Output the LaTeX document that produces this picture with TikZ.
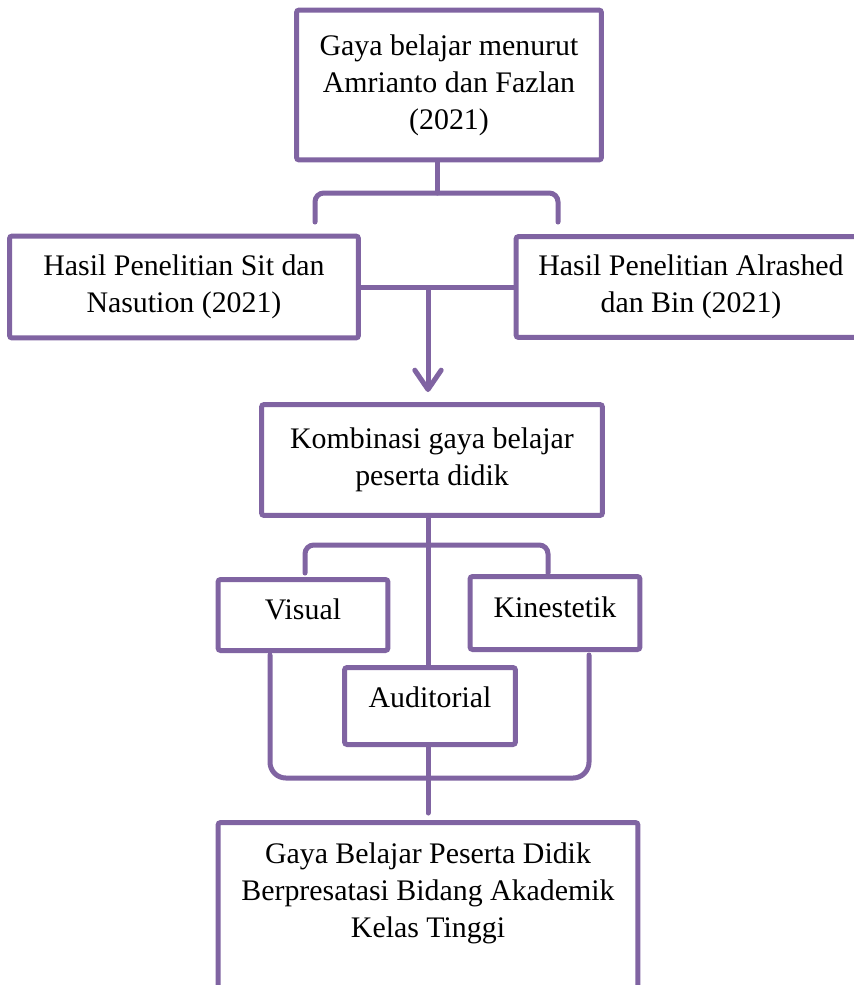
\documentclass[tikz,border=0pt]{standalone}
\usepackage{fontspec}
\setmainfont{Liberation Serif}
\usetikzlibrary{arrows.meta, positioning, calc}
\definecolor{boxpurple}{RGB}{128, 100, 162}

\begin{document}
\begin{tikzpicture}[x=0.02cm, y=-0.02cm,
  box/.style={draw=boxpurple, line width=0.1cm, fill=white, rounded corners=1.5pt, align=center, font=\fontsize{17}{21}\selectfont, inner sep=0pt},
  ln/.style={draw=boxpurple, line width=0.1cm, rounded corners=5pt, line cap=round},
  arr/.style={ln, -{Straight Barb[length=11pt, width=15pt, round]}},
]
  \useasboundingbox (0,0) rectangle (854,985);
  \fill[white] (0,0) rectangle (854,985);
  \clip (0,0) rectangle (854,985);

  \node[box, minimum width=6.1cm, minimum height=3cm] (gaya) at (449,85) {Gaya belajar menurut\\Amrianto dan Fazlan\\(2021)};
  \node[box, minimum width=6.98cm, minimum height=2.04cm] (sit) at (184,287) {Hasil Penelitian Sit dan\\Nasution (2021)};
  \node[box, minimum width=7cm, minimum height=2.02cm] (alr) at (691,287) {Hasil Penelitian Alrashed\\dan Bin (2021)};
  \node[box, minimum width=6.82cm, minimum height=2.22cm] (komb) at (432,460) {Kombinasi gaya belajar\\peserta didik};
  \node[box, minimum width=3.4cm, minimum height=1.42cm, text depth=0.22cm] (vis) at (303,615) {Visual};
  \node[box, minimum width=3.4cm, minimum height=1.46cm, text depth=0.22cm] (kin) at (555,613) {Kinestetik};
  \node[box, minimum width=3.42cm, minimum height=1.54cm, text depth=0.34cm] (aud) at (430,706) {Auditorial};
  \node[box, minimum width=8.4cm, anchor=north, inner ysep=0.4cm] (res) at (428,820) {Gaya Belajar Peserta Didik\\Berpresatasi Bidang Akademik\\Kelas Tinggi\rule[-3cm]{0pt}{0pt}};

  % brace under the first box
  \coordinate (b1) at (437,193);
  \coordinate (b1l) at (315,222);
  \coordinate (b1r) at (558,222);
  \draw[ln] (b1 |- gaya.south) -- (b1);
  \draw[ln] (b1l) |- (b1) -| (b1r);

  % the two studies
  \draw[ln] (sit.east) -- (alr.west);
  \coordinate (mid) at (428,290);
  \draw[arr, shorten >=0.2cm] (mid) -- (mid |- komb.north);

  % brace under the combination
  \coordinate (b2) at (428,545);
  \coordinate (b2l) at (305,573);
  \coordinate (b2r) at (548,573);
  \draw[ln] (b2 |- komb.south) -- (b2) -- (b2 |- aud.north);
  \draw[ln] (b2l) |- (b2) -| (b2r);

  % brace into the result
  \coordinate (b3) at (428,778);
  \coordinate (b3l) at (270,655);
  \coordinate (b3r) at (589,655);
  \coordinate (b3t) at (428,813);
  \draw[ln, rounded corners=9pt] (b3l) |- (b3) -| (b3r);
  \draw[ln] (b3 |- aud.south) -- (b3) -- (b3t);
\end{tikzpicture}
\end{document}
